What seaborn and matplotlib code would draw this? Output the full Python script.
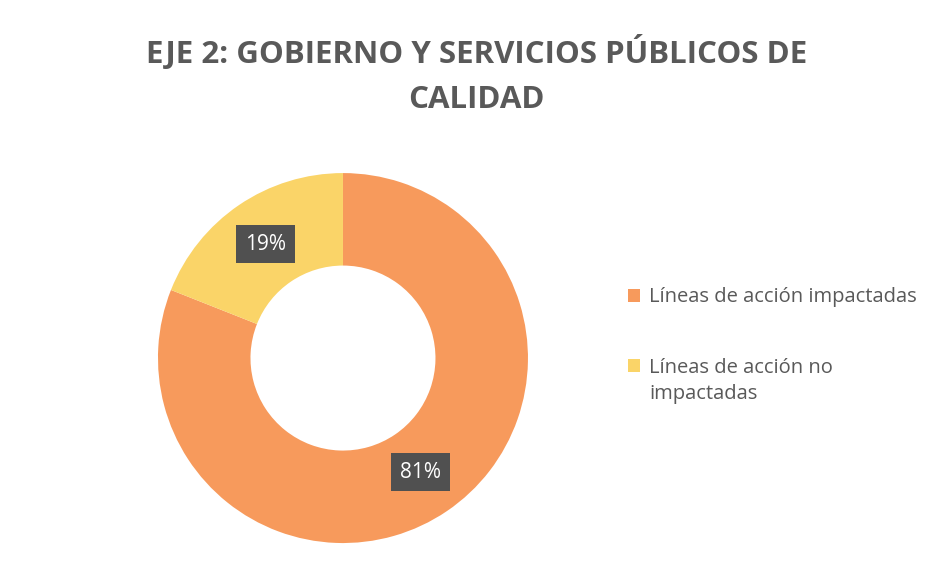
import matplotlib
matplotlib.use("Agg")
import matplotlib.pyplot as plt
import seaborn as sns

sns.set_theme(style="white")
plt.rcParams['font.family'] = ['Open Sans', 'DejaVu Sans']

# Data
TITLE = "EJE 2: GOBIERNO Y SERVICIOS PÚBLICOS DE\nCALIDAD"
categories = ["Líneas de acción impactadas", "Líneas de acción no"]
label_tail = "impactadas"
values = [81, 19]
colors = sns.color_palette(["#F79A5C", "#FAD468"])

fig = plt.figure(figsize=(9.33, 5.61), dpi=100)
fig.patch.set_facecolor("white")
ax = fig.add_axes([0.1693, 0.032, 0.3966, 0.6595])

wedges, texts, autotexts = ax.pie(
    values,
    colors=colors,
    startangle=90,
    counterclock=False,
    autopct=lambda p: f"{p:.0f}%",
    pctdistance=0.745,
    wedgeprops=dict(width=0.5, edgecolor="none"),
)
for t in autotexts:
    t.set_color("white")
    t.set_fontsize(15)
    t.set_bbox(dict(boxstyle="square,pad=0.42", facecolor="#505050", edgecolor="none"))
ax.set_xlim(-1, 1)
ax.set_ylim(-1, 1)
ax.set_aspect("equal")

fig.text(0.511, 0.867, TITLE, ha="center", va="center", fontsize=22.5, fontweight="bold",
         color="#595959", linespacing=1.65)

leg = fig.legend(wedges, categories, loc="upper left", bbox_to_anchor=(0.6535, 0.52),
                 frameon=False, fontsize=14.5, labelspacing=2.5, handlelength=0.6,
                 handleheight=0.6, handletextpad=0.45)
for t in leg.get_texts():
    t.set_color("#595959")

# second line of the wrapped legend label, under its first line
fig.canvas.draw()
bb = leg.get_texts()[1].get_window_extent().transformed(fig.transFigure.inverted())
fig.text(bb.x0, bb.y0 - 0.012, label_tail, ha="left", va="top", fontsize=14.5, color="#595959")

fig.savefig("out.png", dpi=100, facecolor="white")
